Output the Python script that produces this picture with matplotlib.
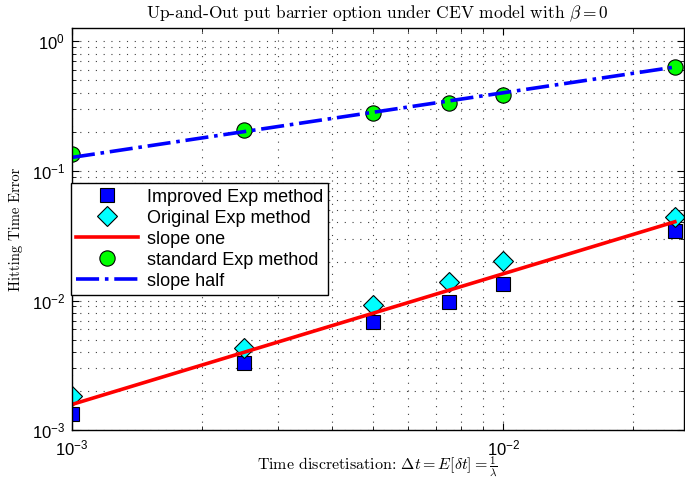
import matplotlib
matplotlib.use("Agg")
import matplotlib.pyplot as plt

# data
dt = [0.001, 0.0025, 0.005, 0.0075, 0.01, 0.025]
improved = [0.00133, 0.00327, 0.0068, 0.0097, 0.0133, 0.0345]
original = [0.00182, 0.00427, 0.0093, 0.014, 0.0203, 0.0443]
standard = [0.135, 0.207, 0.279, 0.333, 0.384, 0.63]
line_x = [0.001, 0.025]
slope_one = [0.00158, 0.0405]
slope_half = [0.127, 0.632]

plt.rcParams['font.family'] = ['Liberation Sans', 'DejaVu Sans']
plt.rcParams['mathtext.fontset'] = 'custom'
plt.rcParams['mathtext.rm'] = 'Liberation Sans'
plt.rcParams['mathtext.it'] = 'Liberation Sans:italic'

fig = plt.figure(figsize=(6.85, 4.78), dpi=100)
ax = fig.add_axes([0.105, 0.1, 0.893, 0.841])

ax.loglog(dt, improved, 's', color='#0000ff', mec='k', mew=0.8, ms=10,
          label='Improved Exp method')
ax.loglog(dt, original, 'D', color='#00ffff', mec='k', mew=0.8, ms=10,
          label='Original Exp method')
ax.loglog(line_x, slope_one, '-', color='#ff0000', lw=2.6, label='slope one')
ax.loglog(dt, standard, 'o', color='#00ff00', mec='k', mew=0.8, ms=11,
          label='standard Exp method')
ax.loglog(line_x, slope_half, '-.', color='#0000ff', lw=2.6, label='slope half')

ax.set_xlim(1e-3, 0.0262)
ax.set_ylim(1e-3, 1.26)
ax.grid(True, which='both', linestyle=(0, (1, 6)), color='0.25', lw=0.8)
ax.tick_params(which='both', direction='in', top=True, right=True, labelsize=12)
ax.tick_params(axis='x', which='major', pad=6)
ax.tick_params(axis='y', which='major', pad=5)
ax.tick_params(which='major', length=5)
ax.tick_params(which='minor', length=3)
for s in ax.spines.values():
    s.set_linewidth(1.0)

ax.set_title(r'Up-and-Out put barrier option under CEV model with $\beta = 0$',
             fontfamily='cmr10', math_fontfamily='cm', fontsize=12.5, pad=7)
ax.set_xlabel(r'Time discretisation: $\Delta t = E[\delta t] = \frac{1}{\lambda}$',
              fontfamily='cmr10', math_fontfamily='cm', fontsize=11.5, labelpad=-3)
ax.set_ylabel('Hitting Time Error', fontfamily='cmr10', fontsize=10.5, labelpad=6)

leg = ax.legend(loc='upper left', bbox_to_anchor=(-0.002, 0.614), fontsize=13,
                fancybox=False, edgecolor='k', framealpha=1, borderaxespad=0,
                handlelength=3.4, labelspacing=0.22, borderpad=0.3,
                handletextpad=0.5)
leg.get_frame().set_linewidth(1.0)

fig.savefig('out.png', dpi=100)
